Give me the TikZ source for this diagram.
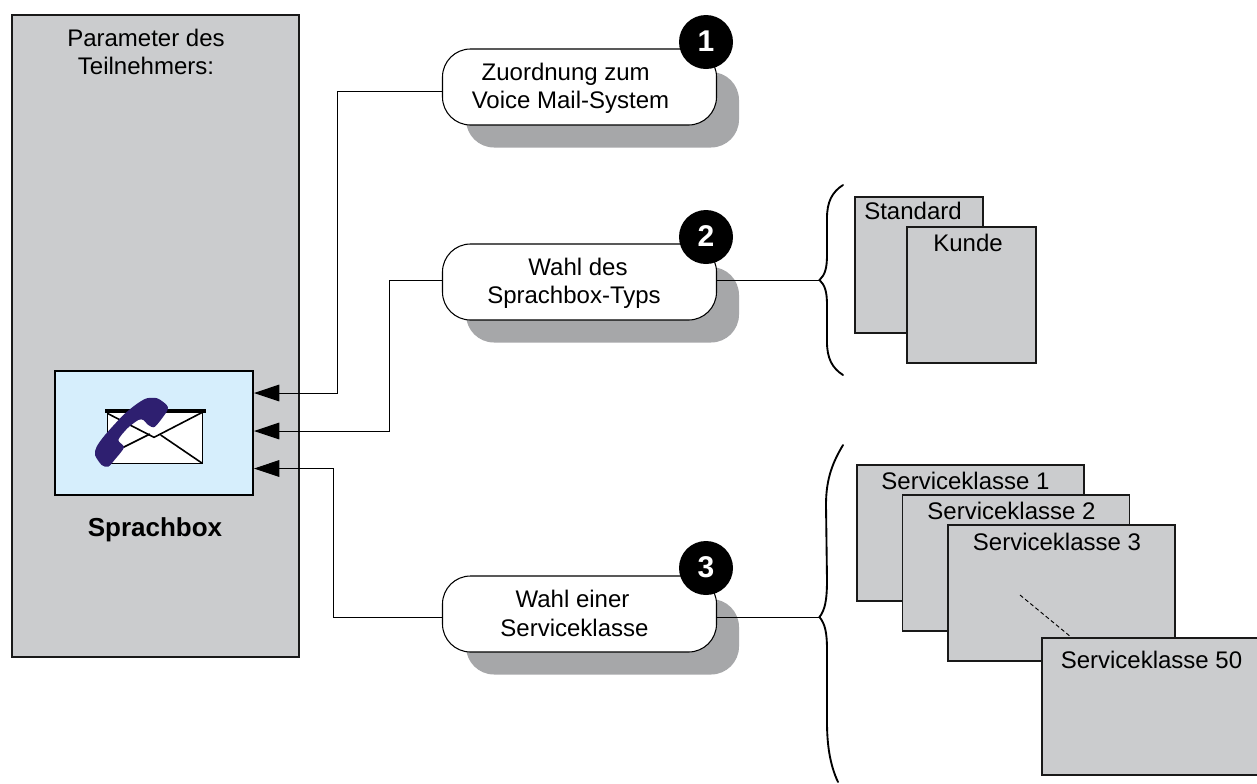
\documentclass[tikz,border=0pt]{standalone}
\usepackage{fontspec}
\setmainfont{Liberation Sans}
\usetikzlibrary{arrows.meta}
\definecolor{panelgray}{HTML}{CBCCCE}
\definecolor{shadowgray}{HTML}{A6A7A9}
\definecolor{boxblue}{HTML}{D6EEFC}
\definecolor{handset}{HTML}{2E1F70}
\tikzset{
  px/.style={x=0.75pt,y=-0.75pt},
  label/.style={font=\fontsize{18}{21.3}\selectfont,inner sep=0pt,anchor=center,align=center},
  sheet/.style={draw=black!90,line width=0.8pt,fill=panelgray},
  bubble/.style={draw=black,line width=0.8pt,fill=white,rounded corners=21pt,minimum width=205.5pt,minimum height=57pt,inner sep=0pt},
  bubshadow/.style={fill=shadowgray,rounded corners=21pt},
  badge/.style={circle,fill=black,text=white,minimum size=40.5pt,inner sep=0pt,font=\fontsize{22.5}{24}\selectfont\bfseries},
  link/.style={draw=black,line width=0.75pt},
  linkarrow/.style={link,-{Triangle[length=19pt,width=12.5pt]}},
  bracestroke/.style={draw=black,line width=1.4pt,line cap=round},
  envline/.style={draw=black,line width=1.2pt}
}
\begin{document}
\begin{tikzpicture}[px]
\useasboundingbox (0,0) rectangle (1257,783);
\fill[white] (0,0) rectangle (1257,783);
% left panel
\draw[sheet] (12,15) rectangle (299,657);
\node[label] (ptitle) at (146,52) {Parameter des\\Teilnehmers:};
\node[draw=black,line width=1pt,fill=boxblue,minimum width=148.5pt,minimum height=93pt,inner sep=0pt] (mbox) at (154,433) {};
\node[label,font=\fontsize{19.5}{22}\selectfont\bfseries] (mlabel) at (155,530) {Sprachbox};
% envelope and handset
\begin{scope}[shift={(40,360)},x=0.25pt,y=-0.25pt]
\fill[white] (202,153) rectangle (487,310);
\draw[envline] (202,153) -- (202,310) -- (487,310) -- (487,153);
\draw[line width=2.5pt] (195,153) -- (497,153);
\draw[envline] (202,160) -- (342,232) -- (487,157);
\draw[envline] (487,310) -- (362,225);
\draw[envline] (250,262) -- (330,222);
\fill[handset] plot[smooth cycle,tension=0.45] coordinates {(320,115) (352,115) (380,135) (382,152) (345,200) (325,195) (310,180) (295,180) (262,205) (235,240) (252,262) (225,298) (205,320) (185,315) (165,285) (170,260) (195,225) (250,165) (290,132)};
\end{scope}
% shadows
\fill[bubshadow] (466,72) rectangle (739,147.5);
\fill[bubshadow] (466,267) rectangle (739,342.5);
\fill[bubshadow] (466,599) rectangle (739,674.5);
% bubbles
\node[bubble] (b1) at (579.5,87) {};
\node[bubble] (b2) at (579.5,282) {};
\node[bubble] (b3) at (579.5,614) {};
\node[label] (t1) at (570.5,88.5) {Zuordnung zum\hspace*{7.2pt}\\Voice Mail-System};
\node[label] (t2) at (574,283.5) {\hspace*{6pt}Wahl des\\Sprachbox-Typs};
\node[label] (t3) at (574.5,613.5) {Wahl einer\hspace*{3pt}\\Serviceklasse};
\node[badge] (n1) at (706,42) {\raisebox{1pt}{1}};
\node[badge] (n2) at (706,237) {\raisebox{1pt}{2}};
\node[badge] (n3) at (706,568) {\raisebox{1pt}{3}};
% connectors to the box
\coordinate (e1) at (b1.west |- 0,91);
\coordinate (e2) at (b2.west |- 0,280);
\coordinate (e3) at (b3.west |- 0,617);
\coordinate (r2) at (b2.east |- 0,280);
\coordinate (r3) at (b3.east |- 0,617);
\coordinate (j1) at (337,393);
\coordinate (j2) at (389,431);
\coordinate (j3) at (333,468.5);
\coordinate (a1) at (254,393);
\coordinate (a2) at (254,431);
\coordinate (a3) at (254,468.5);
\draw[linkarrow] (e1) -- (e1 -| j1) -- (j1) -- (a1);
\draw[linkarrow] (e2) -- (e2 -| j2) -- (j2) -- (a2);
\draw[linkarrow] (e3) -- (e3 -| j3) -- (j3) -- (a3);
% braces
\coordinate (tip2) at (819.5,280);
\coordinate (tip3) at (819.5,617);
\draw[bracestroke] (843,185) .. controls (832,192) and (827,202) .. (827,218) -- (827,255) .. controls (827,268) and (825,275) .. (tip2) .. controls (825,285) and (827,292) .. (827,305) -- (827,342) .. controls (827,358) and (832,368) .. (843,375);
\draw[bracestroke] (843,445) .. controls (833,462) and (826,478) .. (826,505) -- (827,580) .. controls (827,600) and (825,610) .. (tip3) .. controls (825,624) and (827,632) .. (827,650) -- (827,722) .. controls (827,745) and (830,765) .. (838,782);
\draw[link] (r2) -- (tip2);
\draw[link] (r3) -- (tip3);
% sheets
\draw[sheet] (855,197) rectangle (983,333);
\draw[sheet] (907,227) rectangle (1036,363);
\node[label] (s1) at (913,211) {Standard};
\node[label] (s2) at (968,243) {Kunde};
\draw[sheet] (857,465) rectangle (1084,601);
\node[label] (k1) at (965.5,481) {Serviceklasse 1};
\draw[sheet] (902.5,495) rectangle (1129.5,631);
\node[label] (k2) at (1011.5,511) {Serviceklasse 2};
\draw[sheet] (948,525) rectangle (1175,661);
\node[label] (k3) at (1057,542) {Serviceklasse 3};
\draw[line width=0.7pt,dash pattern=on 3pt off 2pt] (1020,595) -- (1071,637);
\draw[sheet] (1042,638) rectangle (1258,775);
\node[label] (k50) at (1151.5,660) {Serviceklasse 50};
\end{tikzpicture}
\end{document}
